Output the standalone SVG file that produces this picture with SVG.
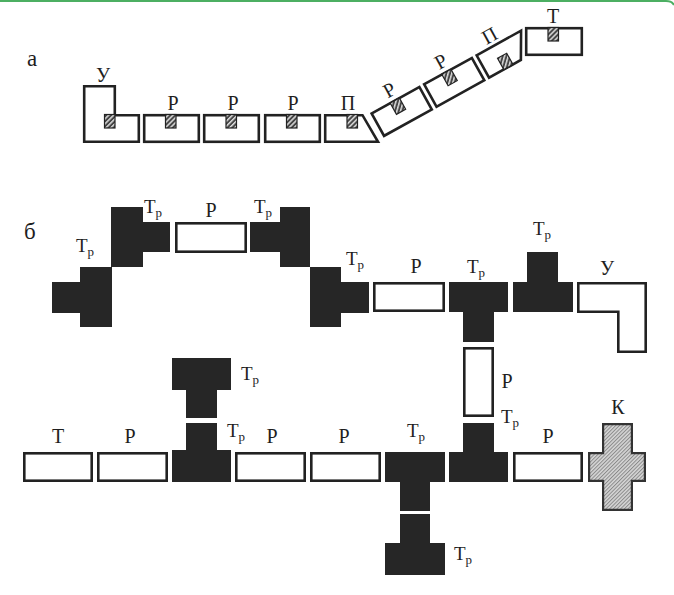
<svg xmlns="http://www.w3.org/2000/svg" width="674" height="595" viewBox="0 0 674 595">
<style>
.bg{fill:#fff}
.box{fill:#fff;stroke:#222;stroke-width:2.6;stroke-linejoin:miter}
.blk{fill:#262626;stroke:none}
.hs{fill:url(#hatchS);stroke:#222;stroke-width:1.2}
.kk{fill:url(#hatchK);stroke:#333;stroke-width:2.2}
.lbl{font-family:"Liberation Serif","Times New Roman",serif;font-size:20px;fill:#1e1e1e;text-anchor:middle}
.tp{font-family:"Liberation Serif","Times New Roman",serif;font-size:19px;fill:#1e1e1e}
.sub{font-size:13px}
.big{font-family:"Liberation Serif","Times New Roman",serif;font-size:23px;fill:#1e1e1e}
</style>
<defs>
<pattern id="hatchS" width="3.5" height="3.5" patternUnits="userSpaceOnUse" patternTransform="rotate(45)">
<rect width="3.5" height="3.5" fill="#444"/>
<rect width="1.5" height="3.5" fill="#ddd"/>
</pattern>
<pattern id="hatchK" width="2.6" height="2.6" patternUnits="userSpaceOnUse" patternTransform="rotate(45)">
<rect width="2.6" height="2.6" fill="#d6d6d6"/>
<rect width="1" height="2.6" fill="#8a8a8a"/>
</pattern>
</defs>
<rect class="bg" width="674" height="595"/>
<path d="M0,1 H666 Q672,1 674,5" fill="none" stroke="#4caf62" stroke-width="2"/>

<!-- Part a -->
<text class="big" x="27" y="66">а</text>
<g id="a-U">
<path class="box" d="M84.2,86.2 H114.8 V115.2 H138.8 V141.8 H84.2 Z"/>
<rect class="hs" x="104.5" y="114.5" width="10.5" height="13.5"/>
<text class="lbl" x="103" y="82">У</text>
</g>
<g id="a-R1">
<rect class="box" x="144.2" y="115.2" width="54.6" height="26.6"/>
<rect class="hs" x="165.5" y="114.5" width="10.5" height="13.5"/>
<text class="lbl" x="173" y="110">Р</text>
</g>
<g id="a-R2">
<rect class="box" x="204.2" y="115.2" width="54.6" height="26.6"/>
<rect class="hs" x="226" y="114.5" width="10.5" height="13.5"/>
<text class="lbl" x="233" y="110">Р</text>
</g>
<g id="a-R3">
<rect class="box" x="265.2" y="115.2" width="54.6" height="26.6"/>
<rect class="hs" x="286.5" y="114.5" width="10.5" height="13.5"/>
<text class="lbl" x="293" y="110">Р</text>
</g>
<g id="a-P1">
<path class="box" d="M325.2,115.2 H362.5 L378,141.8 H325.2 Z"/>
<rect class="hs" x="347" y="114.5" width="10.5" height="13.5"/>
<text class="lbl" x="348" y="110">П</text>
</g>
<g id="a-R4" transform="translate(370,113) rotate(-29)">
<rect class="box" x="1.2" y="1.2" width="54.6" height="25.6"/>
<rect class="hs" x="22.5" y="1" width="10.5" height="13"/>
<text class="lbl" x="28" y="-4">Р</text>
</g>
<g id="a-R5" transform="translate(422.5,83.9) rotate(-29)">
<rect class="box" x="1.2" y="1.2" width="54.6" height="25.6"/>
<rect class="hs" x="21.5" y="1" width="10.5" height="13"/>
<text class="lbl" x="27" y="-4">Р</text>
</g>
<g id="a-P2" transform="translate(475,54.8) rotate(-29)">
<path class="box" d="M1.2,1.2 H52 L37.6,26.8 H1.2 Z"/>
<rect class="hs" x="18" y="14" width="10.5" height="13"/>
<text class="lbl" x="22" y="-3">П</text>
</g>
<g id="a-T">
<rect class="box" x="526.2" y="28.2" width="55.6" height="26.6"/>
<rect class="hs" x="548" y="27.5" width="10.5" height="13.5"/>
<text class="lbl" x="553" y="23">Т</text>
</g>

<!-- Part b -->
<text class="big" x="24" y="239">б</text>
<g id="b-Tp1">
<path class="blk" d="M80,267 H112 V327 H80 V313 H52 V282 H80 Z"/>
<text class="tp" x="76" y="252">Т<tspan class="sub" dy="4">р</tspan></text>
</g>
<g id="b-Tp2">
<path class="blk" d="M111,207 H143 V222 H170 V252 H143 V267 H111 Z"/>
<text class="tp" x="144" y="213">Т<tspan class="sub" dy="4">р</tspan></text>
</g>
<g id="b-R1">
<rect class="box" x="176.3" y="223.3" width="69.4" height="28.4"/>
<text class="lbl" x="211" y="217">Р</text>
</g>
<g id="b-Tp3">
<path class="blk" d="M250,222 H280 V207 H310 V267 H280 V252 H250 Z"/>
<text class="tp" x="254" y="213">Т<tspan class="sub" dy="4">р</tspan></text>
</g>
<g id="b-Tp4">
<path class="blk" d="M310,267 H341 V282 H369 V313 H341 V327 H310 Z"/>
<text class="tp" x="346" y="265">Т<tspan class="sub" dy="4">р</tspan></text>
</g>
<g id="b-R2">
<rect class="box" x="374.3" y="283.3" width="69.4" height="27.4"/>
<text class="lbl" x="416" y="273">Р</text>
</g>
<g id="b-Tp5">
<path class="blk" d="M449,282 H508 V312 H494 V342 H463 V312 H449 Z"/>
<text class="tp" x="467" y="273">Т<tspan class="sub" dy="4">р</tspan></text>
</g>
<g id="b-Tp6">
<path class="blk" d="M527,252 H558 V282 H573 V312 H513 V282 H527 Z"/>
<text class="tp" x="533" y="235">Т<tspan class="sub" dy="4">р</tspan></text>
</g>
<g id="b-U">
<path class="box" d="M578.3,283.3 H645.7 V351.7 H618.3 V311.7 H578.3 Z"/>
<text class="lbl" x="607" y="275">У</text>
</g>
<g id="b-R3">
<rect class="box" x="464.3" y="348.3" width="28.4" height="67.4"/>
<text class="lbl" x="507" y="388">Р</text>
</g>
<g id="b-Tp7">
<path class="blk" d="M463,423 H494 V452 H508 V482 H449 V452 H463 Z"/>
<text class="tp" x="501" y="423">Т<tspan class="sub" dy="4">р</tspan></text>
</g>
<g id="b-R4">
<rect class="box" x="514.3" y="453.3" width="67.4" height="27.4"/>
<text class="lbl" x="548" y="443">Р</text>
</g>
<g id="b-K">
<path class="kk" d="M603.1,424.1 H631.9 V453.1 H644.9 V480.9 H631.9 V509.9 H603.1 V480.9 H589.1 V453.1 H603.1 Z"/>
<text class="lbl" x="618" y="414">К</text>
</g>
<g id="b-Tp8">
<path class="blk" d="M385,452 H445 V482 H430 V511 H400 V482 H385 Z"/>
<text class="tp" x="407" y="437">Т<tspan class="sub" dy="4">р</tspan></text>
</g>
<g id="b-Tp9">
<path class="blk" d="M400,514 H430 V543 H445 V575 H385 V543 H400 Z"/>
<text class="tp" x="454" y="560">Т<tspan class="sub" dy="4">р</tspan></text>
</g>
<g id="b-Tp10">
<path class="blk" d="M172,358 H231 V390 H217 V418 H186 V390 H172 Z"/>
<text class="tp" x="241" y="380">Т<tspan class="sub" dy="4">р</tspan></text>
</g>
<g id="b-Tp11">
<path class="blk" d="M186,423 H217 V450 H231 V482 H172 V450 H186 Z"/>
<text class="tp" x="227" y="437">Т<tspan class="sub" dy="4">р</tspan></text>
</g>
<g id="b-T">
<rect class="box" x="24.3" y="453.3" width="67.4" height="27.4"/>
<text class="lbl" x="58" y="443">Т</text>
</g>
<g id="b-R5">
<rect class="box" x="98.3" y="453.3" width="68.4" height="27.4"/>
<text class="lbl" x="130" y="443">Р</text>
</g>
<g id="b-R6">
<rect class="box" x="236.3" y="453.3" width="68.4" height="27.4"/>
<text class="lbl" x="272" y="443">Р</text>
</g>
<g id="b-R7">
<rect class="box" x="311.3" y="453.3" width="68.4" height="27.4"/>
<text class="lbl" x="344" y="443">Р</text>
</g>
<g id="connectors"/>
</svg>
